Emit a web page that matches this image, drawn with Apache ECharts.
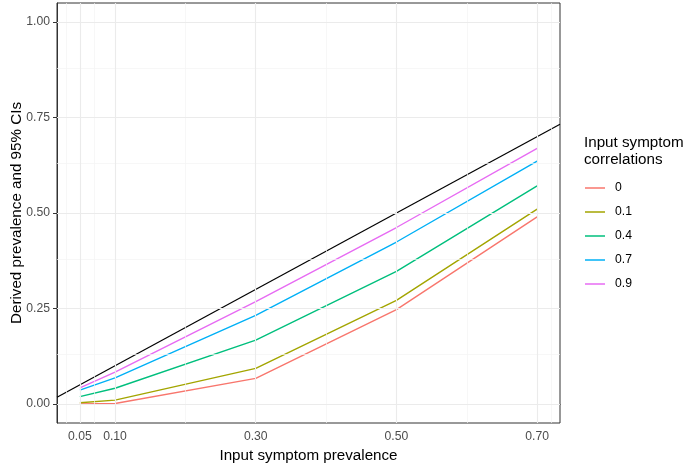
<!DOCTYPE html>
<html>
<head>
<meta charset="utf-8">
<script src="https://cdn.jsdelivr.net/npm/echarts@6/dist/echarts.min.js"></script>
<style>
html,body{margin:0;padding:0;background:#fff;}
#chart{width:693px;height:468px;}
</style>
</head>
<body>
<div id="chart"></div>
<script>
// ---- data ----
const xValues = [0.05, 0.10, 0.30, 0.50, 0.70];
const corrLabels = ['0', '0.1', '0.4', '0.7', '0.9'];
const derived_c0  = [0.000, 0.001, 0.067, 0.247, 0.490];
const derived_c01 = [0.003, 0.010, 0.093, 0.271, 0.510];
const derived_c04 = [0.019, 0.041, 0.167, 0.347, 0.571];
const derived_c07 = [0.036, 0.068, 0.232, 0.424, 0.636];
const derived_c09 = [0.042, 0.083, 0.268, 0.462, 0.669];
const xTicks = [0.05, 0.10, 0.30, 0.50, 0.70];
const xMinor = [0.025, 0.075, 0.20, 0.40, 0.60, 0.725];
const yTicks = [0, 0.25, 0.50, 0.75, 1.00];
const yMinor = [0.125, 0.375, 0.625, 0.875];
const xLimits = [0.0175, 0.7325];
const yLimits = [-0.05, 1.05];
const colors = ['#F8766D', '#A3A500', '#00BF7D', '#00B0F6', '#E76BF3'];

const seriesValues = [derived_c0, derived_c01, derived_c04, derived_c07, derived_c09];
const FONT = 'Liberation Sans, Arial, Helvetica, sans-serif';

const gridLines = [];
xMinor.forEach(v => gridLines.push({xAxis: v, lineStyle: {color: '#F3F3F3', width: 0.7, type: 'solid'}}));
yMinor.forEach(v => gridLines.push({yAxis: v, lineStyle: {color: '#F3F3F3', width: 0.7, type: 'solid'}}));
xTicks.forEach(v => gridLines.push({xAxis: v, lineStyle: {color: '#EBEBEB', width: 1.1, type: 'solid'}}));
yTicks.forEach(v => gridLines.push({yAxis: v, lineStyle: {color: '#EBEBEB', width: 1.1, type: 'solid'}}));

const series = [{
  name: 'grid', type: 'line', data: [], z: 0, silent: true,
  markLine: {silent: true, symbol: ['none', 'none'], label: {show: false},
    animation: false, data: gridLines}
}, {
  name: 'identity', type: 'line', symbol: 'none', z: 3,
  data: [[xLimits[0], xLimits[0]], [xLimits[1], xLimits[1]]],
  lineStyle: {color: '#000', width: 1.2, type: 'solid'}
}];
corrLabels.forEach((lab, i) => {
  series.push({
    name: lab, type: 'line', symbol: 'none', z: 2,
    data: xValues.map((x, j) => [x, seriesValues[i][j]]),
    lineStyle: {color: colors[i], width: 1.4, type: 'solid'},
    itemStyle: {color: colors[i]}
  });
});

const chart = echarts.init(document.getElementById('chart'), null, {renderer: 'canvas'});
chart.setOption({
  animation: false,
  backgroundColor: '#fff',
  grid: {left: 57, right: 133, top: 3, bottom: 45, show: true, borderColor: '#333', borderWidth: 1,
    backgroundColor: '#fff', containLabel: false, outerBoundsMode: 'none'},
  title: {text: 'Input symptom\ncorrelations', left: 584, top: 135, padding: 0,
    textStyle: {fontFamily: FONT, fontSize: 15.2, fontWeight: 'normal', color: '#000', lineHeight: 16.5}},
  legend: {
    data: corrLabels.map(n => ({name: n, icon: 'rect'})), orient: 'vertical', left: 585, top: 181, padding: 0,
    itemWidth: 20, itemHeight: 1.5, itemGap: 10,
    textStyle: {fontFamily: FONT, fontSize: 12.2, color: '#000', padding: [0, 0, 0, 5], height: 14, lineHeight: 14},
    selectedMode: false
  },
  xAxis: {
    type: 'value', min: xLimits[0], max: xLimits[1],
    name: 'Input symptom prevalence', nameLocation: 'middle', nameGap: 25, nameMoveOverlap: false,
    nameTextStyle: {fontFamily: FONT, fontSize: 15.2, color: '#000'},
    axisLine: {show: true, lineStyle: {color: '#333', width: 1}},
    axisTick: {show: true, length: 4, customValues: xTicks, lineStyle: {color: '#333'}},
    axisLabel: {customValues: xTicks, margin: 8, fontFamily: FONT, fontSize: 12.2, color: '#4D4D4D',
      formatter: v => Number(v).toFixed(2)},
    splitLine: {show: false}
  },
  yAxis: {
    type: 'value', min: yLimits[0], max: yLimits[1],
    name: 'Derived prevalence and 95% CIs', nameLocation: 'middle', nameGap: 33, nameMoveOverlap: false,
    nameTextStyle: {fontFamily: FONT, fontSize: 15.2, color: '#000'},
    axisLine: {show: true, lineStyle: {color: '#333', width: 1}},
    axisTick: {show: true, length: 4, customValues: yTicks, lineStyle: {color: '#333'}},
    axisLabel: {customValues: yTicks, margin: 7, fontFamily: FONT, fontSize: 12.2, color: '#4D4D4D',
      formatter: v => Number(v).toFixed(2)},
    splitLine: {show: false}
  },
  series: series
});
</script>
</body>
</html>
